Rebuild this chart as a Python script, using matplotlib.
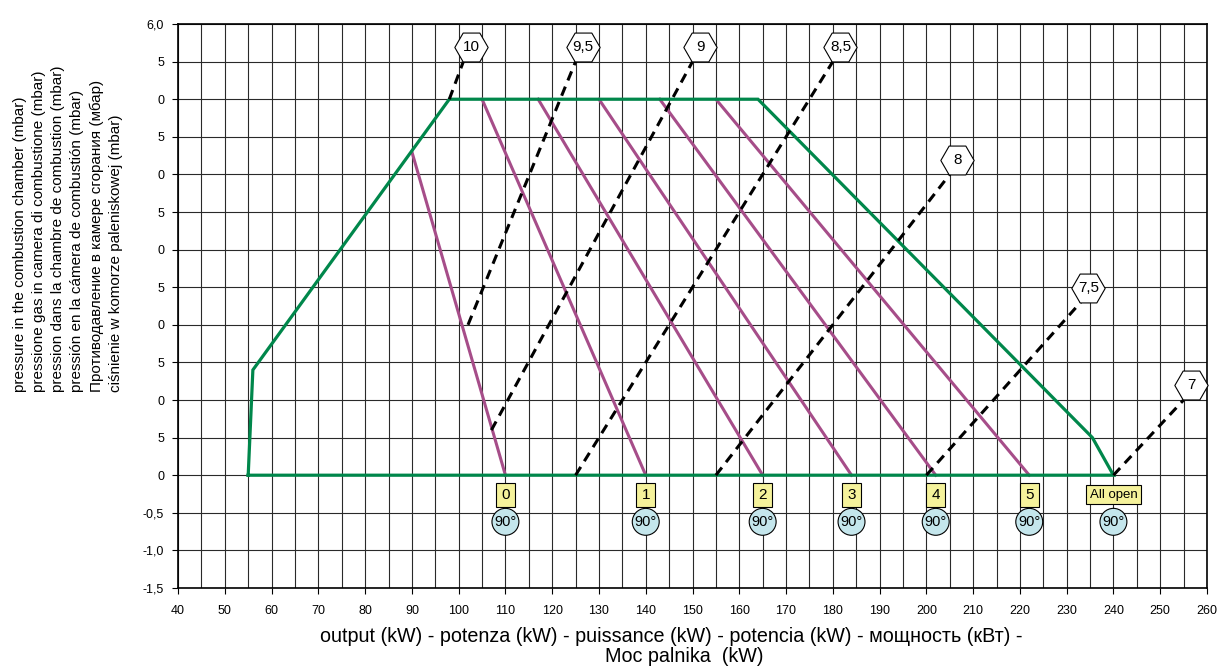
import matplotlib
matplotlib.use("Agg")
import matplotlib.pyplot as plt
import matplotlib.transforms as mtransforms
import numpy as np

plt.rcParams["font.family"] = ["Liberation Sans", "DejaVu Sans"]

# working field envelope (kW, mbar)
envelope_kw = [55, 56, 98, 164, 235.5, 240, 55]
envelope_mbar = [0, 1.4, 5.0, 5.0, 0.5, 0, 0]

# air damper positions
damper_labels = ["0", "1", "2", "3", "4", "5", "All open"]
damper_top_kw = [90, 105, 117, 130, 143, 155]
damper_top_mbar = [4.3, 5.0, 5.0, 5.0, 5.0, 5.0]
damper_bottom_kw = [110, 140, 165, 184, 202, 222, 240]
damper_angle = "90°"

# gas pressure lines
pressure_labels = ["10", "9,5", "9", "8,5", "8", "7,5", "7"]
pressure_start_kw = [98, 102, 107, 125, 155, 200, 240]
pressure_start_mbar = [5.0, 2.0, 0.6, 0.0, 0.0, 0.0, 0.0]
pressure_end_kw = [101, 125, 150, 180, 205, 233, 255]
pressure_end_mbar = [5.5, 5.5, 5.5, 5.5, 4.0, 2.3, 1.0]

y_ticks = np.arange(-1.5, 6.01, 0.5)
y_ticklabels = ["-1,5", "-1,0", "-0,5", "0", "5", "0", "5", "0",
                "5", "0", "5", "0", "5", "0", "5", "6,0"]

GREEN = "#00874b"
PURPLE = "#a64d89"
YELLOW = "#f5f29b"
CYAN = "#c4e6ec"

fig = plt.figure(figsize=(12.22, 6.71), dpi=100)
ax = fig.add_axes([0.1457, 0.1237, 0.842, 0.8405])

ax.set_xlim(40, 260)
ax.set_ylim(-1.5, 6.0)
ax.set_xticks(np.arange(40, 261, 10))
ax.set_xticks(np.arange(45, 260, 10), minor=True)
ax.set_yticks(y_ticks)
ax.set_yticklabels(y_ticklabels)
ax.tick_params(axis="both", which="major", direction="out", length=4,
               width=0.8, labelsize=9, color="black")
ax.tick_params(axis="x", which="major", pad=8)
ax.tick_params(axis="y", which="major", pad=6)
ax.tick_params(axis="x", which="minor", length=0)
ax.grid(True, which="both", color="#2a2a2a", lw=0.8)
ax.set_axisbelow(True)
for sp in ax.spines.values():
    sp.set_linewidth(1.2)

# envelope
ax.plot(envelope_kw, envelope_mbar, color=GREEN, lw=2.3, zorder=3,
        solid_joinstyle="miter")

# damper lines
for x0, y0, x1 in zip(damper_top_kw, damper_top_mbar, damper_bottom_kw):
    ax.plot([x0, x1], [y0, 0], color=PURPLE, lw=2.2, zorder=2.5)

# pressure lines with hexagon tags
tag_tr = mtransforms.offset_copy(ax.transData, fig=fig, x=5.5, y=10.5,
                                 units="points")
for lab, xs, ys, xe, ye in zip(pressure_labels, pressure_start_kw,
                               pressure_start_mbar, pressure_end_kw,
                               pressure_end_mbar):
    ax.plot([xs, xe], [ys, ye], color="black", lw=2.2, ls=(0, (3.2, 2.2)),
            zorder=4)
    ax.plot(xe, ye, marker="H", ms=24, mfc="white", mec="black", mew=0.8,
            transform=tag_tr, zorder=6, clip_on=False)
    ax.text(xe, ye, lab, transform=tag_tr, ha="center", va="center",
            fontsize=11, zorder=7, clip_on=False)

# damper position tags
for lab, xb in zip(damper_labels, damper_bottom_kw):
    if len(lab) > 2:
        fs, box = 9.5, "square,pad=0.25"
    else:
        fs, box = 11, "square,pad=0.33"
    ax.text(xb, -0.26, lab, ha="center", va="center", fontsize=fs, zorder=7,
            bbox=dict(boxstyle=box, fc=YELLOW, ec="black", lw=0.8))
    ax.text(xb, -0.62, damper_angle, ha="center", va="center", fontsize=10.5,
            zorder=7, bbox=dict(boxstyle="circle,pad=0.16", fc=CYAN,
                                ec="black", lw=0.8))

ylab = ("pressure in the combustion chamber (mbar)\n"
        "pressione gas in camera di combustione (mbar)\n"
        "pression dans la chambre de combustion (mbar)\n"
        "pressión en la cámera de combustión (mbar)\n"
        "Противодавление в камере сгорания (мбар)\n"
        "ciśnienie w komorze paleniskowej (mbar)")
fig.text(0.0556, 1 - 392 / 671, ylab, rotation=90, ha="center", va="bottom",
         multialignment="left", fontsize=11, linespacing=1.47)

# x axis title, two centred lines
fig.text(671 / 1222, 1 - 636 / 671,
         "output (kW) - potenza (kW) - puissance (kW) - potencia (kW) - "
         "мощность (кВт) -",
         ha="center", va="center", fontsize=14.2)
fig.text(684 / 1222, 1 - 657 / 671, "Moc palnika  (kW)",
         ha="center", va="center", fontsize=14.2)

fig.savefig("out.png", dpi=100)
